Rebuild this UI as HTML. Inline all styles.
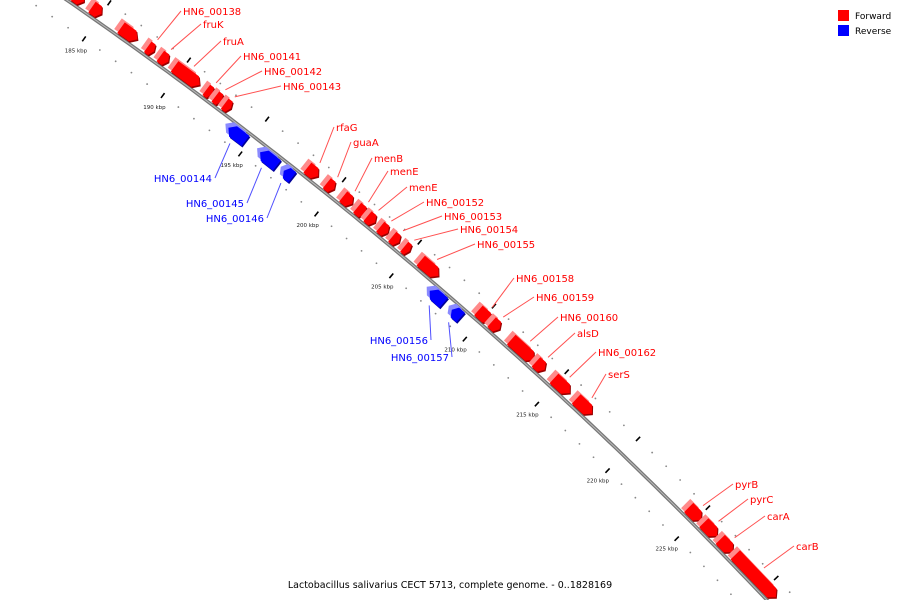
<!DOCTYPE html>
<html><head><meta charset="utf-8"><style>
html,body{margin:0;padding:0;background:#fff;overflow:hidden;width:900px;height:600px;}
svg{display:block;font-family:"DejaVu Sans","Liberation Sans",sans-serif;}
</style></head><body>
<svg id="map" width="900" height="600" viewBox="0 0 900 600">
<g id="backbone-layer"></g>
<g id="tick-layer"></g>
<g id="gene-layer"></g>
<g id="label-layer"></g>
<g>
<rect x="838" y="10" width="11" height="11" fill="#ff0000"/>
<text x="855" y="19" font-size="9" fill="#000">Forward</text>
<rect x="838" y="25" width="11" height="11" fill="#0000ff"/>
<text x="855" y="34" font-size="9" fill="#000">Reverse</text>
</g>
<text x="450" y="588" font-size="9.5" text-anchor="middle" fill="#000">Lactobacillus salivarius CECT 5713, complete genome. - 0..1828169</text>
</svg>
<script>
// data
const geneNames = ["g1","g2","g3","HN6_00138","fruK","fruA","HN6_00141","HN6_00142","HN6_00143","HN6_00144","HN6_00145","HN6_00146","rfaG","guaA","menB","menE","menE","HN6_00152","HN6_00153","HN6_00154","HN6_00155","HN6_00156","HN6_00157","HN6_00158","HN6_00159","HN6_00160","alsD","HN6_00162","serS","pyrB","pyrC","carA","carB"];
const geneStarts = [183.27,184.4,186.22,187.9,188.7,189.6,191.62,192.2,192.8,193.7,195.75,197.3,198.15,199.42,200.5,201.42,202.1,202.95,203.75,204.55,205.65,207.0,208.5,209.55,210.45,211.8,213.5,214.75,216.3,224.3,225.4,226.6,227.7];
const geneEnds   = [183.9,185.0,187.25,188.3,189.2,191.2,192.0,192.6,193.2,194.8,196.85,197.85,198.85,199.9,201.1,201.95,202.6,203.45,204.2,204.9,206.85,207.95,209.1,210.4,211.0,213.35,214.1,215.85,217.4,225.2,226.35,227.5,230.7];
const geneStrands = [1,1,1,1,1,1,1,1,1,-1,-1,-1,1,1,1,1,1,1,1,1,1,-1,-1,1,1,1,1,1,1,1,1,1,1];
const geneLabelled = [0,0,0,1,1,1,1,1,1,1,1,1,1,1,1,1,1,1,1,1,1,1,1,1,1,1,1,1,1,1,1,1,1];
const tickLabels = [185,190,195,200,205,210,215,220,225];
const minorTickStart = 180, minorTickEnd = 234;

// layout (label anchor positions)
const labelPos = {3:[183,15],4:[203,28],5:[223,45],6:[243,60],7:[264,75],8:[283,90],9:[212,182],10:[244,207],11:[264,222],
12:[336,131],13:[353,146],14:[374,162],15:[390,175],16:[409,191],17:[426,206],18:[444,220],19:[460,233],20:[477,248],
21:[428,344],22:[449,361],23:[516,282],24:[536,301],25:[560,321],26:[577,337],27:[598,356],28:[608,378],
29:[735,488],30:[750,503],31:[767,520],32:[796,550]};

const CX=-2457, CY=3653, R=4440, A0=-54.89, DPK=0.2517;
const NS="http://www.w3.org/2000/svg";
function ang(k){return (A0+(k-185)*DPK)*Math.PI/180;}
function pt(k,r){const a=ang(k);return [CX+r*Math.cos(a), CY+r*Math.sin(a)];}
function mk(tag,attrs,parent){const e=document.createElementNS(NS,tag);for(const k in attrs)e.setAttribute(k,attrs[k]);parent.appendChild(e);return e;}
function poly(pts){return pts.map(p=>p[0].toFixed(1)+","+p[1].toFixed(1)).join(" ");}
function shift(p,dx,dy){return [p[0]+dx,p[1]+dy];}

// backbone
const bb=document.getElementById("backbone-layer");
let d="";for(let k=178;k<=232;k+=0.5){const p=pt(k,R);d+=(d?"L":"M")+p[0].toFixed(1)+" "+p[1].toFixed(1);}
const bl=mk("path",{d:d,stroke:"#777",fill:"none","stroke-width":"3.5"},bb);


const bl2=mk("path",{d:d,stroke:"#bbb",fill:"none","stroke-width":"1"},bb);



// ticks
const tl=document.getElementById("tick-layer");
for(let k=minorTickStart;k<=minorTickEnd;k++){
  const major = k%5===0;
  [-1,1].forEach(s=>{
    if(major){
      const a=pt(k,R+s*19),b=pt(k,R+s*25);
      const l=mk("line",{x1:a[0],y1:a[1],x2:b[0],y2:b[1],stroke:"#000","stroke-width":"1.6"},tl);
      
      
    } else {
      const p=pt(k,R+s*22);
      const c=mk("circle",{cx:p[0],cy:p[1],r:"0.9",fill:"#888"},tl);
      
      
    }
  });
}
tickLabels.forEach(k=>{
  const p=pt(k,R-36);
  const t=mk("text",{x:p[0],y:p[1]+2,"font-size":"5.5","text-anchor":"middle",fill:"#222"},tl);
  t.textContent=k+" kbp";
  
  
});

// genes
const gl=document.getElementById("gene-layer");
const ll=document.getElementById("label-layer");
geneNames.forEach((n,i)=>{
  const s=geneStrands[i], st=geneStarts[i], en=geneEnds[i];
  const r1=R+s*2, r2=R+s*15, rm=(r1+r2)/2;
  const head=Math.min(0.3,(en-st)*0.35);
  const g=mk("g",{},gl);
  
  
  let shape;
  if(s>0) shape=[pt(st,r1),pt(st,r2),pt(en-head,r2),pt(en,rm),pt(en-head,r1)];
  else shape=[pt(en,r1),pt(en,r2),pt(st+head,r2),pt(st,rm),pt(st+head,r1)];
  const main=s>0?"#ff0000":"#0000ff", dark=s>0?"#990000":"#000099", light=s>0?"#ff8a8a":"#8a8aff";
  // 3D top face: extruded toward upper-left
  const ex=-3, ey=-4;
  const top=shape.map(p=>shift(p,ex,ey));
  mk("polygon",{points:poly(top),fill:light},g);
  // dark shadow
  mk("polygon",{points:poly(shape.map(p=>shift(p,1,1.5))),fill:dark},g);
  mk("polygon",{points:poly(shape),fill:main},g);
  if(geneLabelled[i] && labelPos[i]){
    const lp=labelPos[i], mid=(st+en)/2, tp=pt(mid,R+s*20);
    const col=s>0?"#ff0000":"#0000ff";
    const lx=s>0?lp[0]-2:lp[0]+3, ly=lp[1]-4;
    const ln=mk("line",{x1:lx,y1:ly,x2:tp[0],y2:tp[1],stroke:s>0?"#ff5050":"#5050ff","stroke-width":"1"},ll);
    
    
    const t=mk("text",{x:lp[0],y:lp[1],"font-size":"10",fill:col,"text-anchor":s>0?"start":"end"},ll);
    t.textContent=n;
    
    
  }
});
</script>
</body></html>
